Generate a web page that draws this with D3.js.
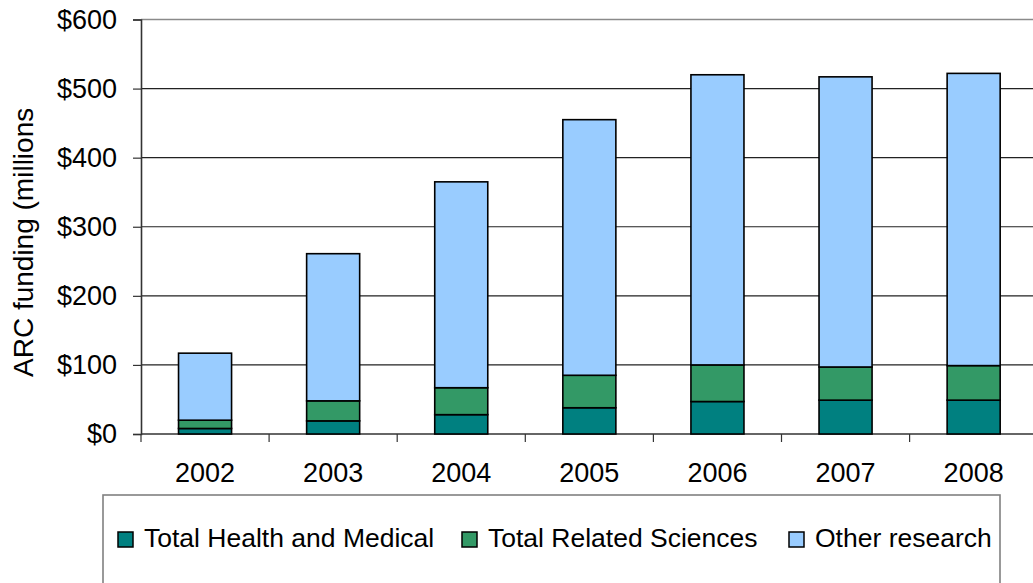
<!DOCTYPE html>
<html>
<head>
<meta charset="utf-8">
<script src="https://cdn.jsdelivr.net/npm/d3@7"></script>
<style>
  html, body { margin: 0; padding: 0; background: #fff; overflow: hidden; }
  svg { display: block; font-family: "Liberation Sans", Arial, sans-serif; }
</style>
</head>
<body>
<svg id="chart" width="1033" height="583"></svg>
<script>
// ARC funding by year, stacked by research area ($ millions)
const years = ["2002", "2003", "2004", "2005", "2006", "2007", "2008"];
const healthMedical   = [8, 19, 28, 38, 47, 49, 49];
const relatedSciences = [12, 29, 39, 47, 53, 48, 50];
const otherResearch   = [97, 213, 298, 370, 420, 420, 423];
const seriesNames = ["Total Health and Medical", "Total Related Sciences", "Other research"];
const seriesColors = ["#008080", "#339966", "#99CCFF"];
const yTicks = [0, 100, 200, 300, 400, 500, 600];

const svg = d3.select("#chart");
const margin = { left: 141, top: 19.5, bottom: 434 };
const plotRight = 1037.7;

const rows = years.map((y, i) => ({
  year: y,
  [seriesNames[0]]: healthMedical[i],
  [seriesNames[1]]: relatedSciences[i],
  [seriesNames[2]]: otherResearch[i]
}));
const stacked = d3.stack().keys(seriesNames)(rows);

const x = d3.scaleBand()
  .domain(years)
  .range([margin.left, plotRight])
  .paddingInner(0.586)
  .paddingOuter(0.293);

const y = d3.scaleLinear()
  .domain([0, 600])
  .range([margin.bottom, margin.top]);

const color = d3.scaleOrdinal().domain(seriesNames).range(seriesColors);

// horizontal gridlines
svg.append("g")
  .selectAll("line")
  .data(yTicks.filter(t => t > 0 && t < 600))
  .join("line")
  .attr("x1", margin.left).attr("x2", plotRight)
  .attr("y1", d => y(d)).attr("y2", d => y(d))
  .attr("stroke", "#222").attr("stroke-width", 1.2);

// top border of plot area
svg.append("line")
  .attr("x1", margin.left).attr("x2", plotRight)
  .attr("y1", y(600)).attr("y2", y(600))
  .attr("stroke", "#8a8a8a").attr("stroke-width", 1.6);

// y axis
const yAxis = svg.append("g")
  .attr("transform", `translate(${margin.left},0)`)
  .call(d3.axisLeft(y).tickValues(yTicks).tickSize(8).tickPadding(16)
    .tickFormat(d => "$" + d));
yAxis.select(".domain").attr("stroke", "#333").attr("stroke-width", 1.6);
yAxis.selectAll(".tick line").attr("stroke", "#333").attr("stroke-width", 1.2);
yAxis.selectAll(".tick text")
  .attr("font-size", 27).attr("fill", "#000")
  .attr("font-family", "Liberation Sans, Arial, sans-serif");

// x axis: ticks sit at band boundaries
const xAxisG = svg.append("g").attr("transform", `translate(0,${margin.bottom})`);
xAxisG.append("line")
  .attr("x1", margin.left).attr("x2", plotRight)
  .attr("y1", 0).attr("y2", 0)
  .attr("stroke", "#333").attr("stroke-width", 1.6);
xAxisG.selectAll("line.tk")
  .data(years.map(yr => x(yr) + x.bandwidth() / 2 - x.step() / 2))
  .join("line")
  .attr("class", "tk")
  .attr("x1", d => d).attr("x2", d => d)
  .attr("y1", 0).attr("y2", 8)
  .attr("stroke", "#333").attr("stroke-width", 1.2);
xAxisG.selectAll("text")
  .data(years)
  .join("text")
  .attr("x", d => x(d) + x.bandwidth() / 2)
  .attr("y", 48)
  .attr("text-anchor", "middle")
  .attr("font-size", 27)
  .attr("fill", "#000")
  .text(d => d);

// stacked bars
svg.append("g")
  .selectAll("g")
  .data(stacked)
  .join("g")
  .attr("fill", d => color(d.key))
  .selectAll("rect")
  .data(d => d)
  .join("rect")
  .attr("x", d => x(d.data.year))
  .attr("width", x.bandwidth())
  .attr("y", d => y(d[1]))
  .attr("height", d => y(d[0]) - y(d[1]))
  .attr("stroke", "#000")
  .attr("stroke-width", 1.6);

// y axis title, clipped at the top edge
svg.append("defs").append("clipPath").attr("id", "titleClip")
  .append("rect").attr("x", 0).attr("y", 109).attr("width", 60).attr("height", 400);
svg.append("g").attr("clip-path", "url(#titleClip)")
  .append("text")
  .attr("transform", "translate(33,377) rotate(-90)")
  .attr("text-anchor", "start")
  .attr("font-size", 28)
  .attr("fill", "#000")
  .text("ARC funding (millions)");

// legend
const legend = svg.append("g");
legend.append("rect")
  .attr("x", 103).attr("y", 495)
  .attr("width", 897).attr("height", 120)
  .attr("fill", "#fff")
  .attr("stroke", "#808080").attr("stroke-width", 1.6);
const legendX = [118, 462, 789];
const items = legend.selectAll("g.item")
  .data(seriesNames)
  .join("g")
  .attr("class", "item")
  .attr("transform", (d, i) => `translate(${legendX[i]},532)`);
items.append("rect")
  .attr("width", 15).attr("height", 15)
  .attr("fill", d => color(d))
  .attr("stroke", "#000").attr("stroke-width", 1.5);
items.append("text")
  .attr("x", 26).attr("y", 15)
  .attr("font-size", 26.5)
  .attr("fill", "#000")
  .text(d => d);
</script>
</body>
</html>
